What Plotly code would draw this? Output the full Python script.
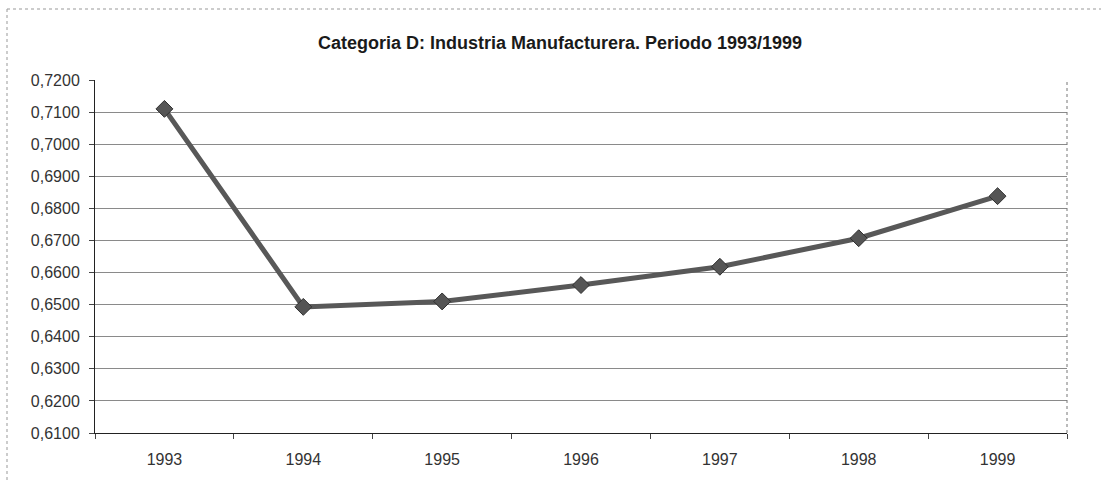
import plotly.graph_objects as go

years = ["1993", "1994", "1995", "1996", "1997", "1998", "1999"]
values = [0.7110, 0.6493, 0.6510, 0.6561, 0.6618, 0.6707, 0.6838]
ytick_vals = [0.61, 0.62, 0.63, 0.64, 0.65, 0.66, 0.67, 0.68, 0.69, 0.70, 0.71, 0.72]
ytick_text = ["0,6100", "0,6200", "0,6300", "0,6400", "0,6500", "0,6600",
              "0,6700", "0,6800", "0,6900", "0,7000", "0,7100", "0,7200"]
title_text = "Categoria D: Industria Manufacturera. Periodo 1993/1999"

W, H = 1101, 481
ML, MR, MT, MB = 95, 34, 80, 48

fig = go.Figure()
fig.add_trace(go.Scatter(
    x=years, y=values, mode="lines+markers",
    line=dict(color="#585858", width=5),
    marker=dict(symbol="diamond", size=13, color="#555555",
                line=dict(color="#303030", width=1)),
    showlegend=False, hoverinfo="skip",
))

pw = W - ML - MR
ph = H - MT - MB
fig.update_layout(
    width=W, height=H,
    margin=dict(l=ML, r=MR, t=MT, b=MB, autoexpand=False),
    paper_bgcolor="white", plot_bgcolor="white",
    title=dict(text="<b>" + title_text + "</b>", x=560 / W, xanchor="center",
               y=1 - 43 / H, yanchor="middle",
               font=dict(family="Liberation Sans, Arial", size=18, color="#1a1a1a")),
    xaxis=dict(
        type="category", showgrid=False, showline=True, linecolor="#222222", linewidth=1,
        ticks="outside", ticklen=5, tickcolor="#444444", tickson="boundaries",
        ticklabelstandoff=12,
        tickfont=dict(family="Liberation Sans, Arial", size=16, color="#333333"),
        range=[-0.5, 6.5], fixedrange=True,
    ),
    yaxis=dict(
        range=[0.61, 0.72], tickmode="array", tickvals=ytick_vals, ticktext=ytick_text,
        showgrid=True, gridcolor="#8a8a8a", gridwidth=1,
        showline=True, linecolor="#222222", linewidth=1,
        ticks="outside", ticklen=5, tickcolor="#444444",
        ticklabelstandoff=6,
        tickfont=dict(family="Liberation Sans, Arial", size=16, color="#333333"),
        zeroline=False, fixedrange=True,
    ),
    shapes=[
        dict(type="line", xref="paper", yref="paper", x0=1, x1=1, y0=0, y1=1,
             line=dict(color="#777777", width=1, dash="dot")),
        dict(type="line", xref="paper", yref="paper",
             x0=(7 - ML) / pw, x1=(W - ML) / pw, y0=1 + (MT - 9) / ph, y1=1 + (MT - 9) / ph,
             line=dict(color="#999999", width=1, dash="dot")),
        dict(type="line", xref="paper", yref="paper",
             x0=(7 - ML) / pw, x1=(7 - ML) / pw, y0=1 + (MT - 9) / ph, y1=-MB / ph,
             line=dict(color="#999999", width=1, dash="dot")),
    ],
)

fig.write_html("out.html",
               config={"displayModeBar": False},
               post_script="document.body.style.margin='0';document.body.style.padding='0';")
